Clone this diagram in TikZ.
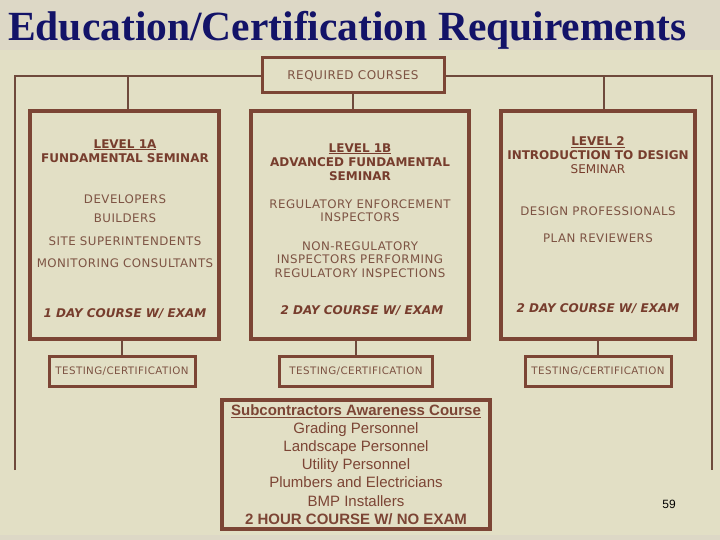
\documentclass[tikz,border=0pt]{standalone}
\usepackage{fontspec}
\setmainfont{Liberation Serif}
\newfontfamily\chartfont{DejaVu Sans}
\newfontfamily\widefont[LetterSpace=4]{DejaVu Sans}
\newfontfamily\subfont{Liberation Sans}
\usetikzlibrary{positioning}

\definecolor{framebrown}{HTML}{7C4535}
\definecolor{headbrown}{HTML}{773D2D}
\definecolor{bodybrown}{HTML}{7D5343}
\definecolor{linebrown}{HTML}{6F4A3C}
\definecolor{panel}{HTML}{E2DFC5}
\definecolor{band}{HTML}{DDD8C6}
\definecolor{titleblue}{HTML}{131368}

\tikzset{
  levelbox/.style={draw=framebrown, line width=4pt, minimum width=#1, minimum height=228pt, inner sep=0pt},
  testbox/.style={draw=framebrown, line width=3pt, minimum width=#1, minimum height=30pt, inner sep=0pt,
    text=bodybrown, font=\widefont\fontsize{10.3}{12}\selectfont},
  headtxt/.style={inner sep=0pt, align=center, text=headbrown, font=\chartfont\bfseries\fontsize{12}{14}\selectfont},
  bodytxt/.style={inner sep=0pt, align=center, text=bodybrown, font=\widefont\fontsize{11.8}{13.5}\selectfont},
  daytxt/.style={inner sep=0pt, text=headbrown, font=\chartfont\bfseries\itshape\fontsize{12}{14}\selectfont},
  link/.style={draw=linebrown, line width=1.2pt},
}

\begin{document}
\begin{tikzpicture}[x=1pt, y=-1pt]
  % background
  \fill[band] (0,0) rectangle (720,540);
  \fill[panel] (0,50) rectangle (720,535);
  \useasboundingbox (0,0) rectangle (720,540);

  \node[anchor=base west, inner sep=0pt, text=titleblue, font=\bfseries\fontsize{41.5}{42}\selectfont] (title) at (8,41) {Education/Certification Requirements};

  % frame lines
  \coordinate (lframe) at (15,76);
  \coordinate (rframe) at (712,76);
  \coordinate (lend) at (15,470);
  \coordinate (rend) at (712,470);
  \coordinate (j1a) at (128,76);
  \coordinate (j2) at (604,76);
  \draw[link] (lend) -- (lframe) -- (rframe) -- (rend);

  \node[draw=framebrown, fill=panel, line width=3pt, minimum width=182pt, minimum height=35pt, inner sep=0pt,
    text=bodybrown, font=\widefont\fontsize{12}{14}\selectfont] (req) at (353,75.5) {REQUIRED COURSES};

  % level boxes
  \node[levelbox=189pt] (lev1a) at (124.5,225) {};
  \node[levelbox=218pt] (lev1b) at (360,225) {};
  \node[levelbox=194pt] (lev2) at (598,225) {};

  \draw[link] (j1a) -- (j1a |- lev1a.north);
  \draw[link] (req.south) -- (req.south |- lev1b.north);
  \draw[link] (j2) -- (j2 |- lev2.north);

  % level 1A
  \node[headtxt] (h1a) at (125,151) {\underline{LEVEL 1A}\\FUNDAMENTAL SEMINAR};
  \node[bodytxt] (dev) at (125,199) {DEVELOPERS};
  \node[bodytxt] (bld) at (125,218) {BUILDERS};
  \node[bodytxt] (site) at (125,241) {SITE SUPERINTENDENTS};
  \node[bodytxt] (mon) at (125,263) {MONITORING CONSULTANTS};
  \node[daytxt] (day1a) at (125,314) {1 DAY COURSE W/ EXAM};

  % level 1B
  \node[headtxt] (h1b) at (360,162) {\underline{LEVEL 1B}\\ADVANCED FUNDAMENTAL\\SEMINAR};
  \node[bodytxt] (reg) at (360,210.5) {REGULATORY ENFORCEMENT\\INSPECTORS};
  \node[bodytxt] (nonreg) at (360,259.5) {NON-REGULATORY\\INSPECTORS PERFORMING\\REGULATORY INSPECTIONS};
  \node[daytxt] (day1b) at (362,311) {2 DAY COURSE W/ EXAM};

  % level 2
  \node[headtxt] (h2) at (598,155) {\underline{LEVEL 2}\\INTRODUCTION TO DESIGN\\\mdseries SEMINAR};
  \node[bodytxt] (des) at (598,211) {DESIGN PROFESSIONALS};
  \node[bodytxt] (plan) at (598,238) {PLAN REVIEWERS};
  \node[daytxt] (day2) at (598,309) {2 DAY COURSE W/ EXAM};

  % testing
  \node[testbox=146pt] (t1) at (122,371) {TESTING/CERTIFICATION};
  \node[testbox=153pt] (t2) at (356,371) {TESTING/CERTIFICATION};
  \node[testbox=146pt] (t3) at (598,371) {TESTING/CERTIFICATION};
  \draw[link] (t1.north |- lev1a.south) -- (t1.north);
  \draw[link] (t2.north |- lev1b.south) -- (t2.north);
  \draw[link] (t3.north |- lev2.south) -- (t3.north);

  % subcontractors
  \node[draw=framebrown, line width=3.5pt, minimum width=268pt, minimum height=129pt, inner sep=0pt] (sub) at (356,464.5) {};
  \node[inner sep=0pt, align=center, text=framebrown, font=\subfont\fontsize{15}{18.2}\selectfont] (subtxt) at (356,464.5)
    {\textbf{\underline{Subcontractors Awareness Course}}\\Grading Personnel\\Landscape Personnel\\Utility Personnel\\Plumbers and Electricians\\BMP Installers\\\textbf{2 HOUR COURSE W/ NO EXAM}};

  \node[inner sep=0pt, font=\subfont\fontsize{12}{14}\selectfont] (page) at (669,504) {59};
\end{tikzpicture}
\end{document}
